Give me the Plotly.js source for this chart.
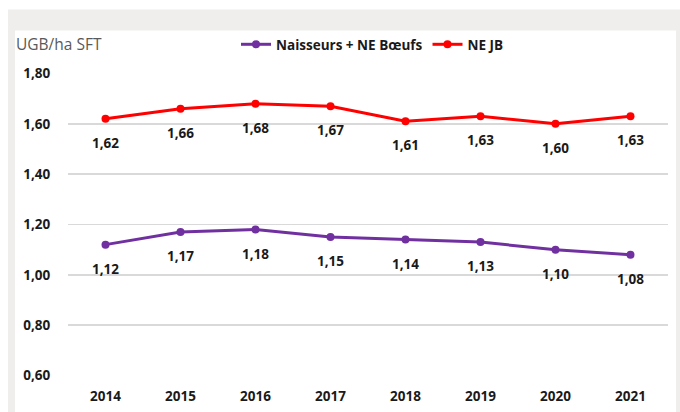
<!DOCTYPE html>
<html><head><meta charset="utf-8">
<script src="https://cdn.plot.ly/plotly-3.0.1.min.js"></script>
<style>html,body{margin:0;padding:0;background:#fff}#chart{width:680px;height:412px}</style>
</head><body><div id="chart"></div>
<script>
const years = [2014,2015,2016,2017,2018,2019,2020,2021];
const naisseurs = [1.12,1.17,1.18,1.15,1.14,1.13,1.10,1.08];
const neJB = [1.62,1.66,1.68,1.67,1.61,1.63,1.60,1.63];
const seriesNames = ['Naisseurs + NE Bœufs','NE JB'];
const yTicks = [0.6,0.8,1.0,1.2,1.4,1.6,1.8];
const yAxisTitle = 'UGB/ha SFT';

const FONT = '"Open Sans", Arial, sans-serif';
const fmt = v => v.toFixed(2).replace('.', ',');

const traces = [
  {x: years, y: naisseurs, name: seriesNames[0], type: 'scatter', mode: 'lines+markers',
   line: {color: '#7030a0', width: 3}, marker: {color: '#7030a0', size: 8}},
  {x: years, y: neJB, name: seriesNames[1], type: 'scatter', mode: 'lines+markers',
   line: {color: '#ff0000', width: 3}, marker: {color: '#ff0000', size: 8}}
];

const annotations = [];
[naisseurs, neJB].forEach(arr => arr.forEach((v, i) => {
  annotations.push({x: years[i], y: v, xref: 'x', yref: 'y', text: fmt(v), showarrow: false,
    yshift: -24, font: {family: FONT, size: 13.5, color: '#1a1a1a', weight: 'bold'}});
}));
annotations.push({x: -0.09, y: 1.097, xref: 'paper', yref: 'paper', xanchor: 'left', yanchor: 'middle',
  text: yAxisTitle, showarrow: false, font: {family: FONT, size: 15.5, color: '#595959'}});

const layout = {
  width: 680, height: 412,
  margin: {l: 68, r: 12, t: 72.5, b: 36},
  paper_bgcolor: '#ffffff', plot_bgcolor: 'rgba(0,0,0,0)',
  font: {family: FONT, size: 13.5, color: '#1a1a1a'},
  showlegend: true,
  legend: {orientation: 'h', x: 0.28, y: 1.094, xanchor: 'left', yanchor: 'middle',
    font: {family: FONT, size: 13.5, color: '#1a1a1a', weight: 'bold'}, bgcolor: 'rgba(0,0,0,0)'},
  xaxis: {range: [2013.5, 2021.5], tickvals: years, ticktext: years.map(String),
    showgrid: false, zeroline: false, showline: false,
    ticks: 'outside', ticklen: 8, tickcolor: 'rgba(0,0,0,0)',
    tickfont: {family: FONT, size: 13.5, color: '#1a1a1a', weight: 'bold'}, fixedrange: true},
  yaxis: {range: [0.598, 1.802], tickvals: yTicks, ticktext: yTicks.map(fmt),
    showgrid: true, gridcolor: '#d9d9d9', gridwidth: 1.5, zeroline: false, showline: false,
    ticks: 'outside', ticklen: 14, tickcolor: 'rgba(0,0,0,0)',
    tickfont: {family: FONT, size: 13.5, color: '#1a1a1a', weight: 'bold'}, fixedrange: true},
  shapes: [
    {type: 'rect', xref: 'paper', yref: 'paper', x0: -0.1, x1: 1.03, y0: -0.13, y1: 1.2092,
     fillcolor: '#efeeec', line: {width: 0}, layer: 'below'},
    {type: 'rect', xref: 'paper', yref: 'paper', x0: -0.0883, x1: 1.0133, y0: -0.13, y1: 1.140,
     fillcolor: '#ffffff', line: {width: 0}, layer: 'below'}
  ],
  annotations: annotations
};

Plotly.newPlot('chart', traces, layout, {displayModeBar: false, staticPlot: true});
</script>
</body></html>
